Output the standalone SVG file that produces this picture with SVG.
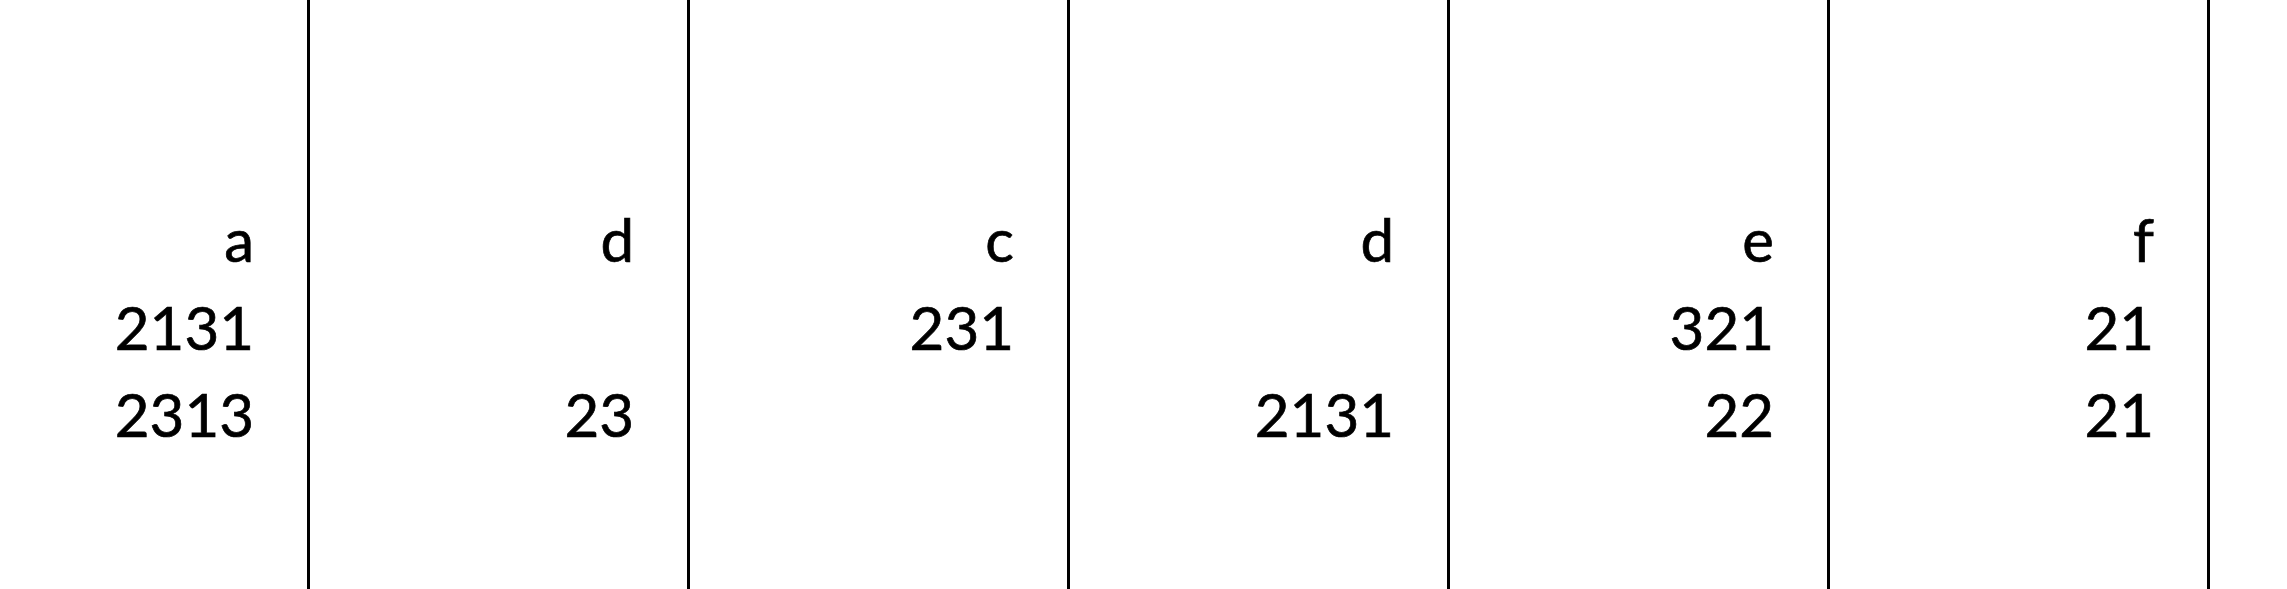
<svg xmlns="http://www.w3.org/2000/svg" width="2287" height="589" viewBox="0 0 2287 589">
<style>
.t{font-family:Lato,"Liberation Sans",sans-serif;font-size:60px;fill:#000;stroke:#000;stroke-width:0.7;text-anchor:end}
.ln{stroke:#000;stroke-width:3;fill:none}
</style>
<rect width="2287" height="589" fill="#fff"/>
<g id="connectors">
<line class="ln" x1="308.5" y1="0" x2="308.5" y2="589"/>
<line class="ln" x1="688.5" y1="0" x2="688.5" y2="589"/>
<line class="ln" x1="1068.5" y1="0" x2="1068.5" y2="589"/>
<line class="ln" x1="1448.5" y1="0" x2="1448.5" y2="589"/>
<line class="ln" x1="1828.5" y1="0" x2="1828.5" y2="589"/>
<line class="ln" x1="2208.5" y1="0" x2="2208.5" y2="589"/>
</g>
<g id="col-a">
<text class="t" x="254" y="262">a</text>
<text class="t" x="254" y="349.5">2131</text>
<text class="t" x="254" y="437">2313</text>
</g>
<g id="col-d1">
<text class="t" x="634" y="262">d</text>
<text class="t" x="634" y="437">23</text>
</g>
<g id="col-c">
<text class="t" x="1014" y="262">c</text>
<text class="t" x="1014" y="349.5">231</text>
</g>
<g id="col-d2">
<text class="t" x="1394" y="262">d</text>
<text class="t" x="1394" y="437">2131</text>
</g>
<g id="col-e">
<text class="t" x="1774" y="262">e</text>
<text class="t" x="1774" y="349.5">321</text>
<text class="t" x="1774" y="437">22</text>
</g>
<g id="col-f">
<text class="t" x="2154" y="262">f</text>
<text class="t" x="2154" y="349.5">21</text>
<text class="t" x="2154" y="437">21</text>
</g>
</svg>
